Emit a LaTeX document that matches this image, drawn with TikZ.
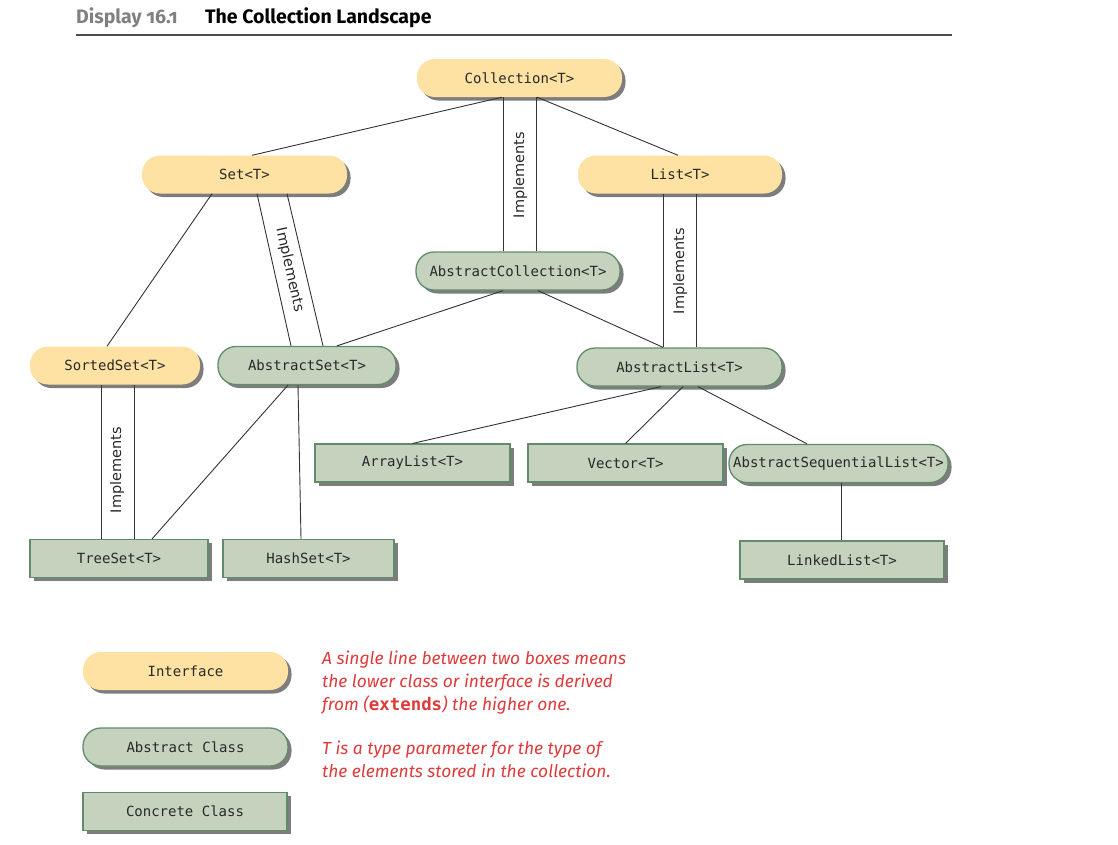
\documentclass[tikz,border=0pt]{standalone}
\usepackage{fontspec}
\usetikzlibrary{shadows,calc}
\newfontfamily\monof{DejaVu Sans Mono}
\newfontfamily\labf{DejaVu Sans}
\newfontfamily\headf[Numbers=OldStyle]{Fira Sans}
\newfontfamily\notef{Fira Sans}
\definecolor{ifacefill}{RGB}{254,226,163}
\definecolor{absfill}{RGB}{197,211,190}
\definecolor{absborder}{RGB}{96,140,106}
\definecolor{notered}{RGB}{222,58,58}
\definecolor{txt}{RGB}{40,40,40}
\definecolor{shadowgray}{RGB}{125,125,125}
\tikzset{
  base/.style={font=\monof\fontsize{14}{16}\selectfont, text=txt, minimum height=38pt, inner sep=0pt,
    general shadow={shadow xshift=3.5pt, shadow yshift=-3.5pt, fill=shadowgray}},
  iface/.style={base, rounded corners=18pt, fill=ifacefill},
  absc/.style={base, rounded corners=18pt, fill=absfill, draw=absborder, line width=1.3pt},
  conc/.style={base, fill=absfill, draw=absborder, line width=1.1pt},
  conn/.style={draw=black!80, line width=0.9pt},
  impl/.style={font=\labf\fontsize{14.5}{16}\selectfont, text=txt, inner sep=0pt},
  note/.style={font=\notef\itshape\fontsize{17.4}{20}\selectfont, text=notered, anchor=base west, inner sep=0pt},
  head/.style={font=\headf\bfseries\fontsize{19.5}{22}\selectfont, anchor=base west, inner sep=0pt}
}
\begin{document}
\begin{tikzpicture}[x=1pt,y=1pt]
\useasboundingbox (0,0) rectangle (1118,-844);
% header
\node[head, text=black!50] (disp) at (76,-23) {Display 16.1};
\node[head, text=black] (title) at (205,-23) {The Collection Landscape};
\coordinate (rl) at (76,-35);
\coordinate (rr) at (952,-35);
\draw[line width=1.4pt, black!70] (rl) -- (rr);

% nodes
\node[iface, minimum width=205pt] (coll) at (519.5,-78) {Collection<T>};
\node[iface, minimum width=205pt] (set) at (244.5,-174.5) {Set<T>};
\node[iface, minimum width=204pt] (list) at (680,-174.5) {List<T>};
\node[absc, minimum width=204pt] (acoll) at (518,-271) {AbstractCollection<T>};
\node[iface, minimum width=170pt] (sorted) at (115,-365.5) {SortedSet<T>};
\node[absc, minimum width=178pt] (aset) at (307,-365.5) {AbstractSet<T>};
\node[absc, minimum width=205pt] (alist) at (679.5,-367) {AbstractList<T>};
\node[conc, minimum width=195pt] (arrl) at (412.5,-463) {ArrayList<T>};
\node[conc, minimum width=195pt] (vect) at (625.5,-463) {Vector<T>};
\node[absc, minimum width=219pt] (asl) at (838.5,-463.5) {AbstractSequentialList<T>};
\node[conc, minimum width=178pt] (tree) at (119,-558.5) {TreeSet<T>};
\node[conc, minimum width=171pt] (hash) at (308.5,-558.5) {HashSet<T>};
\node[conc, minimum width=204pt] (linked) at (842,-560) {LinkedList<T>};

% legend
\node[iface, minimum width=205pt] (li) at (185.5,-671) {Interface};
\node[absc, minimum width=205pt] (la) at (185.5,-747) {Abstract Class};
\node[conc, minimum width=204pt] (lc) at (185,-811.5) {Concrete Class};

% connectors
\draw[conn] ([xshift=-17.5pt]coll.south) -- ([xshift=7.5pt]set.north);
\draw[conn] ([xshift=17.5pt]coll.south) -- ([xshift=-2pt]list.north);
\draw[conn] ([xshift=-16.5pt]coll.south) -- ([xshift=-16.5pt]coll.south |- acoll.north);
\draw[conn] ([xshift=17pt]coll.south) -- ([xshift=17pt]coll.south |- acoll.north);
\node[impl, rotate=90] (impl1) at (520,-175) {Implements};

\draw[conn] ([xshift=-32.5pt]set.south) -- ([xshift=-8pt]sorted.north);
\draw[conn] ([xshift=12.5pt]set.south) -- ([xshift=-16pt]aset.north);
\draw[conn] ([xshift=42.5pt]set.south) -- ([xshift=16pt]aset.north);
\node[impl, rotate=-77.5] (impl2) at (289.5,-270) {Implements};

\draw[conn] ([xshift=-15pt]acoll.south) -- ([xshift=30pt]aset.north);
\draw[conn] ([xshift=20pt]acoll.south) -- ([xshift=-16.5pt]alist.north);

\draw[conn] ([xshift=-17pt]list.south) -- ([xshift=-17pt]list.south |- alist.north);
\draw[conn] ([xshift=16pt]list.south) -- ([xshift=16pt]list.south |- alist.north);
\node[impl, rotate=90] (impl3) at (680,-271) {Implements};

\draw[conn] ([xshift=-18.5pt]alist.south) -- (arrl.north);
\draw[conn] ([xshift=3.5pt]alist.south) -- (vect.north);
\draw[conn] ([xshift=18.5pt]alist.south) -- ([xshift=-31.5pt]asl.north);
\draw[conn] ([xshift=2.5pt]asl.south) -- ([xshift=2.5pt]asl.south |- linked.north);

\draw[conn] ([xshift=-19pt]aset.south) -- ([xshift=33pt]tree.north);
\draw[conn] ([xshift=-9pt]aset.south) -- ([xshift=-7.5pt]hash.north);

\draw[conn] ([xshift=-14pt]sorted.south) -- ([xshift=-14pt]sorted.south |- tree.north);
\draw[conn] ([xshift=19pt]sorted.south) -- ([xshift=19pt]sorted.south |- tree.north);
\node[impl, rotate=90] (impl4) at (117,-470) {Implements};

% notes
\node[note] (n1) at (322,-664) {A single line between two boxes means};
\node[note] (n2) at (322,-687) {the lower class or interface is derived};
\node[note] (n3) at (322,-710) {from ({\monof\upshape\bfseries extends}) the higher one.};
\node[note] (n4) at (322,-754) {T is a type parameter for the type of};
\node[note] (n5) at (322,-777) {the elements stored in the collection.};
\end{tikzpicture}
\end{document}
